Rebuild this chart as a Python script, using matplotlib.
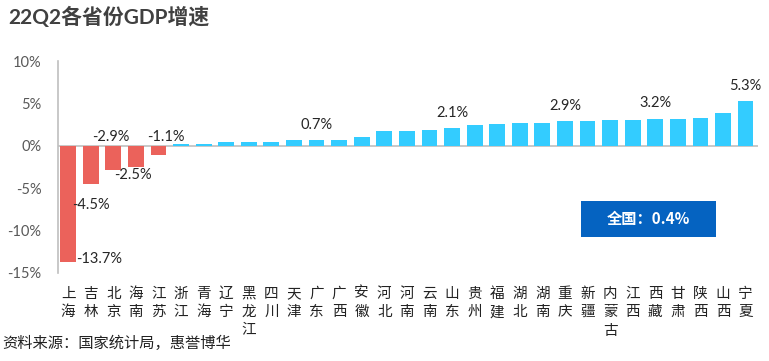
import matplotlib
matplotlib.use("Agg")
import matplotlib.pyplot as plt
from matplotlib.patches import Rectangle

provinces = ["上海", "吉林", "北京", "海南", "江苏", "浙江", "青海", "辽宁", "黑龙江", "四川",
             "天津", "广东", "广西", "安徽", "河北", "河南", "云南", "山东", "贵州", "福建",
             "湖北", "湖南", "重庆", "新疆", "内蒙古", "江西", "西藏", "甘肃", "陕西", "山西", "宁夏"]
growth = [-13.7, -4.5, -2.9, -2.5, -1.1, 0.2, 0.2, 0.4, 0.5, 0.5,
          0.7, 0.7, 0.7, 1.0, 1.7, 1.7, 1.9, 2.1, 2.5, 2.6,
          2.7, 2.7, 2.9, 2.9, 3.0, 3.0, 3.2, 3.2, 3.3, 3.9, 5.3]
yticks = [-15, -10, -5, 0, 5, 10]
national = 0.4
title = "22Q2各省份GDP增速"
source = "资料来源：国家统计局，惠誉博华"

# labelled bars: name -> (anchor, dx_pt, dy_pt, ha, va)
labelled = {
    "上海": ("end_right", 0, 2, "left", "center"),
    "吉林": ("end", 0, -10, "center", "top"),
    "北京": ("zero", -2, 1, "center", "bottom"),
    "海南": ("end", -2, -1, "center", "top"),
    "江苏": ("zero", 5, 1, "center", "bottom"),
    "广东": ("end", 0, 6, "center", "bottom"),
    "山东": ("end", 0, 6, "center", "bottom"),
    "重庆": ("end", 0, 6, "center", "bottom"),
    "西藏": ("end", 0, 6, "center", "bottom"),
    "宁夏": ("end", 0, 6, "center", "bottom"),
}

RED = "#EB625B"
BLUE = "#33CCFF"
GRAY_TXT = "#595959"
LAT = ["Lato", "Noto Sans CJK SC", "DejaVu Sans"]
CJK = ["Noto Sans CJK SC", "DejaVu Sans"]

fig = plt.figure(figsize=(7.69, 3.61), dpi=100)
ax = fig.add_axes([0.0754, 0.244, 0.9103, 0.587])

x = list(range(len(provinces)))
colors = [RED if v < 0 else BLUE for v in growth]
ax.bar(x, growth, width=0.7, color=colors, zorder=2)
ax.axhline(0, color="#BFBFBF", lw=1.2, zorder=1)

ax.set_ylim(-15, 10)
ax.set_xlim(-0.45, len(provinces) - 1 + 0.55)
ax.set_yticks(yticks)
ax.set_yticklabels([f"{t}%" for t in yticks], fontsize=10.5, color=GRAY_TXT, family=LAT)
ax.tick_params(axis="y", length=0, pad=12)
ax.set_xticks(x)
ax.set_xticklabels(["\n".join(p) for p in provinces], fontsize=10.5, family=CJK,
                   color="#222222", linespacing=1.4, va="top")
ax.tick_params(axis="x", length=0, pad=10)

for s in ["top", "right", "bottom"]:
    ax.spines[s].set_visible(False)
ax.spines["left"].set_color("#BFBFBF")
ax.spines["left"].set_linewidth(1.2)

for i, (p, v) in enumerate(zip(provinces, growth)):
    if p not in labelled:
        continue
    anchor, dx, dy, ha, va = labelled[p]
    if anchor == "end_right":
        xy = (i + 0.35, v)
    elif anchor == "zero":
        xy = (i, 0)
    else:
        xy = (i, v)
    ax.annotate(f"{v:.1f}%", xy=xy, xytext=(dx, dy), textcoords="offset points",
                ha=ha, va=va, fontsize=10.5, color="#262626", family=LAT, zorder=4)

# national box
fig.patches.append(Rectangle((581 / 769, 1 - 237 / 361), 135 / 769, 36 / 361,
                             transform=fig.transFigure, facecolor="#0563C1",
                             edgecolor="none", zorder=5))
fig.text(648.5 / 769, 1 - 219 / 361, f"全国：{national}%", ha="center", va="center",
         fontsize=11, color="white", fontweight="bold", family=CJK, zorder=6)

fig.text(8 / 769, 1 - 17 / 361, title, ha="left", va="center", fontsize=15,
         fontweight="bold", color="#404040", family=LAT)
fig.text(2 / 769, 1 - 343 / 361, source, ha="left", va="center", fontsize=11,
         color="#222222", family=CJK)

fig.savefig("out.png", dpi=100)
